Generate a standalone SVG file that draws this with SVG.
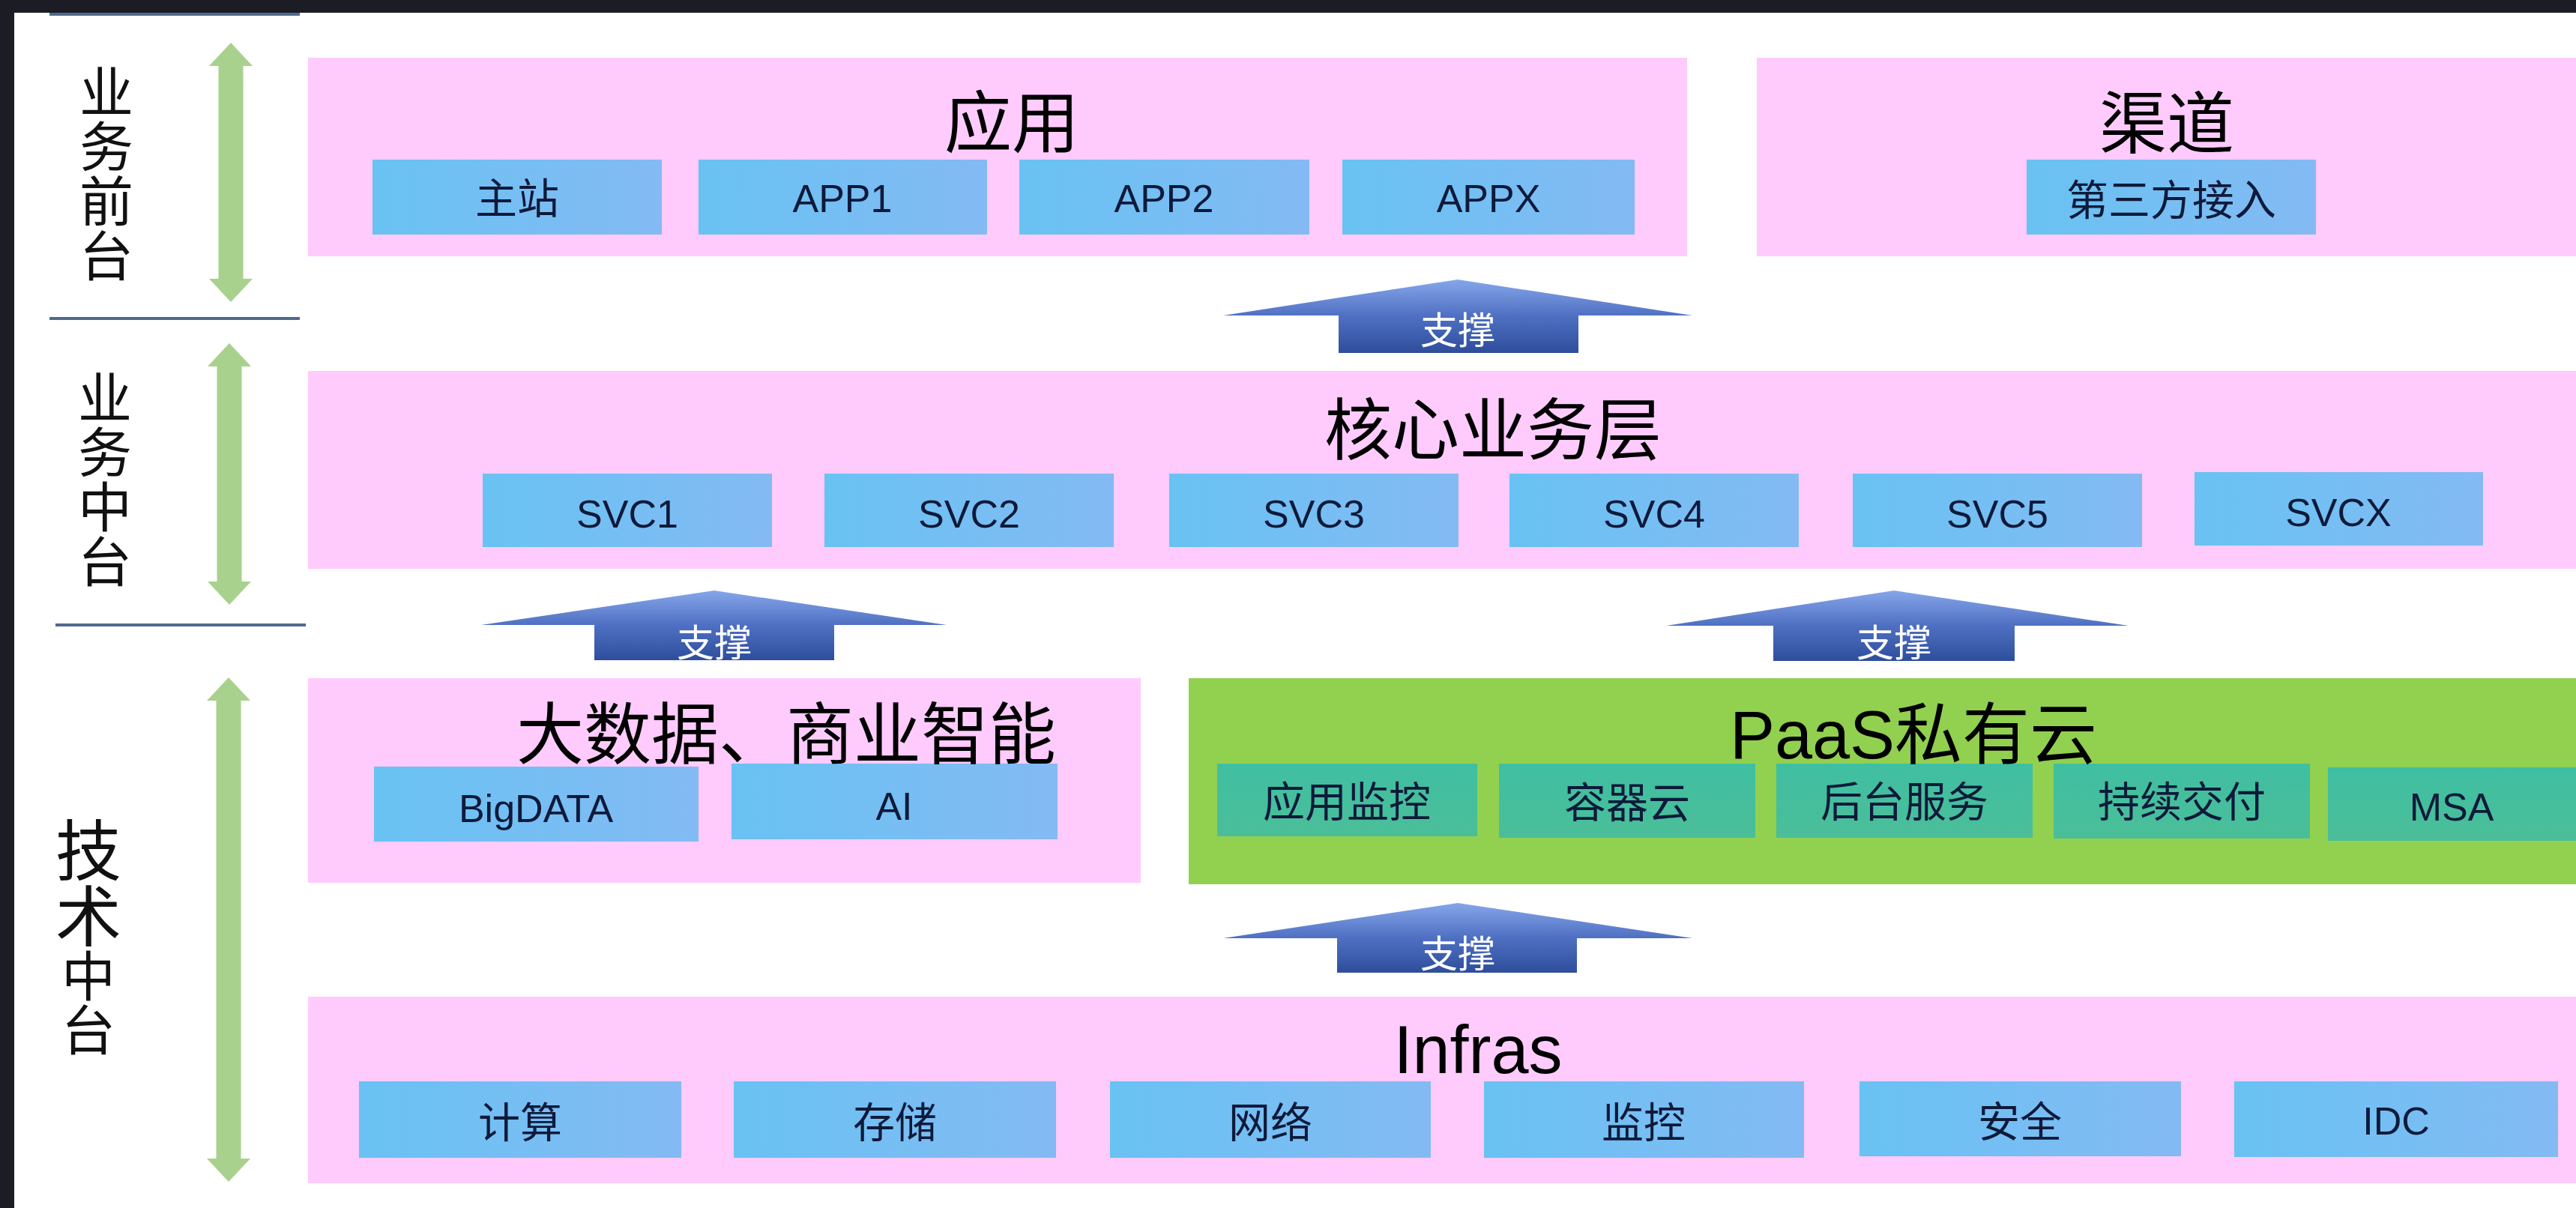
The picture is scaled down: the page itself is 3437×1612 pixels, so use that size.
<svg xmlns="http://www.w3.org/2000/svg" width="3437" height="1612" viewBox="0 0 3437 1612">
<defs>
  <linearGradient id="blueBox" x1="0" y1="0" x2="1" y2="0">
    <stop offset="0" stop-color="#68C2F2"/>
    <stop offset="1" stop-color="#84BAF4"/>
  </linearGradient>
  <linearGradient id="tealBox" x1="0" y1="0" x2="0" y2="1">
    <stop offset="0" stop-color="#3FBFA2"/>
    <stop offset="1" stop-color="#4BBE98"/>
  </linearGradient>
  <linearGradient id="support" x1="0" y1="0" x2="0" y2="1">
    <stop offset="0" stop-color="#86A6EA"/>
    <stop offset="0.5" stop-color="#4F70C2"/>
    <stop offset="1" stop-color="#2E4E9C"/>
  </linearGradient>
  <style>
    .pink { fill: #FFCBFD; }
    .green { fill: #92D050; }
    .sub { fill: url(#blueBox); }
    .teal { fill: url(#tealBox); }
    .title { font-family: "Liberation Sans", "Noto Sans CJK SC", sans-serif; font-size: 90px; fill: #000; text-anchor: middle; }
    .lbl { font-family: "Liberation Sans", "Noto Sans CJK SC", sans-serif; font-size: 56px; fill: #0E1A3A; text-anchor: middle; }
    .lat { font-size: 52px; }
    .side { font-family: "Noto Sans CJK SC", sans-serif; font-size: 72px; fill: #111; writing-mode: vertical-rl; text-orientation: upright; }
    .sup { fill: url(#support); }
    .suptxt { font-family: "Liberation Sans", "Noto Sans CJK SC", sans-serif; font-size: 50px; fill: #FFFFFF; text-anchor: middle; }
    .dbl { fill: #A9D18E; }
    .sep { stroke: #51698D; stroke-width: 4; }
  </style>
</defs>

<rect x="0" y="0" width="3437" height="1612" fill="#1B1C24"/>
<rect x="19" y="17" width="3418" height="1595" fill="#FFFFFF"/>

<g id="side-labels">
  <g id="label-front">
    <text class="side" x="142" y="86" style="letter-spacing:1px">业务前台</text>
  </g>
  <g id="label-middle">
    <text class="side" x="140" y="494" style="letter-spacing:1px">业务中台</text>
  </g>
  <g id="label-tech">
    <text class="side" x="118" y="1090"><tspan style="font-size:88px">技术</tspan><tspan style="font-size:72px">中台</tspan></text>
  </g>
</g>

<g id="app">
  <rect class="pink" x="411" y="77" width="1840" height="265"/>
  <text class="title" x="1350" y="196">应用</text>
  <g id="app-main"><rect class="sub" x="497" y="213" width="386" height="100"/><text class="lbl" x="690" y="285">主站</text></g>
  <g id="app-1"><rect class="sub" x="932" y="213" width="385" height="100"/><text class="lbl lat" x="1124" y="283">APP1</text></g>
  <g id="app-2"><rect class="sub" x="1360" y="213" width="387" height="100"/><text class="lbl lat" x="1553" y="283">APP2</text></g>
  <g id="app-x"><rect class="sub" x="1791" y="213" width="390" height="100"/><text class="lbl lat" x="1986" y="283">APPX</text></g>
</g>

<g id="channel">
  <rect class="pink" x="2344" y="77" width="1093" height="265"/>
  <text class="title" x="2891" y="197">渠道</text>
  <g id="channel-3rd"><rect class="sub" x="2704" y="213" width="386" height="100"/><text class="lbl" x="2897" y="287">第三方接入</text></g>
</g>

<g id="core">
  <rect class="pink" x="411" y="495" width="3026" height="264"/>
  <text class="title" x="1992" y="606">核心业务层</text>
  <g id="svc1"><rect class="sub" x="644" y="632" width="386" height="98"/><text class="lbl lat" x="837" y="704">SVC1</text></g>
  <g id="svc2"><rect class="sub" x="1100" y="632" width="386" height="98"/><text class="lbl lat" x="1293" y="704">SVC2</text></g>
  <g id="svc3"><rect class="sub" x="1560" y="632" width="386" height="98"/><text class="lbl lat" x="1753" y="704">SVC3</text></g>
  <g id="svc4"><rect class="sub" x="2014" y="632" width="386" height="98"/><text class="lbl lat" x="2207" y="704">SVC4</text></g>
  <g id="svc5"><rect class="sub" x="2472" y="632" width="386" height="98"/><text class="lbl lat" x="2665" y="704">SVC5</text></g>
  <g id="svcx"><rect class="sub" x="2928" y="630" width="385" height="98"/><text class="lbl lat" x="3120" y="702">SVCX</text></g>
</g>

<g id="bigdata">
  <rect class="pink" x="411" y="905" width="1111" height="273"/>
  <g id="bigdata-box"><rect class="sub" x="499" y="1023" width="433" height="100"/><text class="lbl lat" x="715" y="1097">BigDATA</text></g>
  <g id="ai-box"><rect class="sub" x="976" y="1019" width="435" height="101"/><text class="lbl lat" x="1193" y="1094">AI</text></g>
  <text class="title" x="1049" y="1012">大数据、商业智能</text>
</g>

<g id="paas">
  <rect class="green" x="1586" y="905" width="1851" height="275"/>
  <g id="paas-monitor"><rect class="teal" x="1624" y="1019" width="347" height="97"/><text class="lbl" x="1797" y="1090">应用监控</text></g>
  <g id="paas-container"><rect class="teal" x="2000" y="1019" width="342" height="99"/><text class="lbl" x="2171" y="1091">容器云</text></g>
  <g id="paas-backend"><rect class="teal" x="2370" y="1019" width="342" height="99"/><text class="lbl" x="2541" y="1090">后台服务</text></g>
  <g id="paas-cd"><rect class="teal" x="2740" y="1019" width="342" height="100"/><text class="lbl" x="2911" y="1090">持续交付</text></g>
  <g id="paas-msa"><rect class="teal" x="3106" y="1024" width="331" height="98"/><text class="lbl lat" x="3271" y="1095">MSA</text></g>
  <text class="title" x="2553" y="1012">PaaS私有云</text>
</g>

<g id="infras">
  <rect class="pink" x="411" y="1330" width="3026" height="249"/>
  <text class="title" x="1972" y="1432">Infras</text>
  <g id="inf-compute"><rect class="sub" x="479" y="1443" width="430" height="102"/><text class="lbl" x="694" y="1518">计算</text></g>
  <g id="inf-storage"><rect class="sub" x="979" y="1443" width="430" height="102"/><text class="lbl" x="1194" y="1518">存储</text></g>
  <g id="inf-network"><rect class="sub" x="1481" y="1443" width="428" height="102"/><text class="lbl" x="1695" y="1518">网络</text></g>
  <g id="inf-monitor"><rect class="sub" x="1980" y="1443" width="427" height="102"/><text class="lbl" x="2193" y="1518">监控</text></g>
  <g id="inf-security"><rect class="sub" x="2481" y="1443" width="429" height="100"/><text class="lbl" x="2695" y="1517">安全</text></g>
  <g id="inf-idc"><rect class="sub" x="2981" y="1443" width="432" height="101"/><text class="lbl lat" x="3197" y="1514">IDC</text></g>
</g>

<g id="connectors">
  <line class="sep" x1="66" y1="19" x2="400" y2="19"/>
  <line class="sep" x1="66" y1="425" x2="400" y2="425"/>
  <line class="sep" x1="74" y1="834" x2="408" y2="834"/>

  <polygon class="dbl" points="308,57 337,88 324.5,88 324.5,372 337,372 308,403 279,372 291.5,372 291.5,88 279,88"/>
  <polygon class="dbl" points="306,458 335,489 322.5,489 322.5,776 335,776 306,807 277,776 289.5,776 289.5,489 277,489"/>
  <polygon class="dbl" points="305,904 334,935 321.5,935 321.5,1546 334,1546 305,1577 276,1546 288.5,1546 288.5,935 276,935"/>

  <g id="support-1">
    <polygon class="sup" points="1945,373 2258,421 2106,421 2106,471 1786,471 1786,421 1632,421"/>
    <text class="suptxt" x="1945" y="459">支撑</text>
  </g>
  <g id="support-2">
    <polygon class="sup" points="953,788 1263,834 1113,834 1113,881 793,881 793,834 642,834"/>
    <text class="suptxt" x="953" y="876">支撑</text>
  </g>
  <g id="support-3">
    <polygon class="sup" points="2527,788 2840,835 2688,835 2688,882 2366,882 2366,835 2223,835"/>
    <text class="suptxt" x="2527" y="876">支撑</text>
  </g>
  <g id="support-4">
    <polygon class="sup" points="1945,1205 2258,1252 2104,1252 2104,1298 1784,1298 1784,1252 1632,1252"/>
    <text class="suptxt" x="1945" y="1291">支撑</text>
  </g>
</g>
</svg>
